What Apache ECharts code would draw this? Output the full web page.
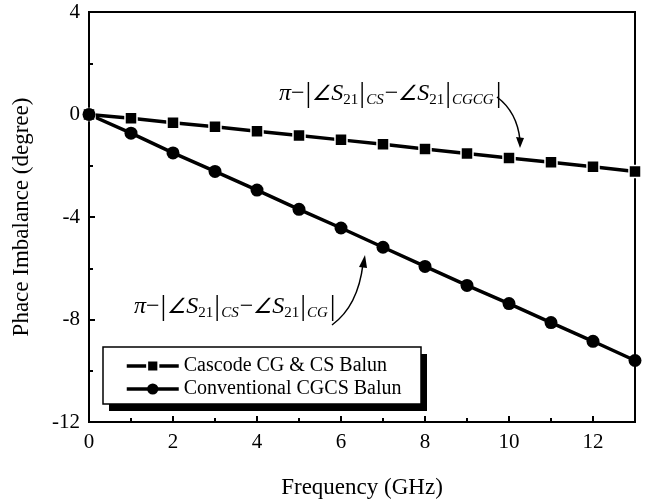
<!DOCTYPE html>
<html>
<head>
<meta charset="utf-8">
<script src="https://cdn.jsdelivr.net/npm/echarts@6/dist/echarts.min.js"></script>
<style>
html,body{margin:0;padding:0;background:#fff;}
#chart{width:654px;height:504px;}
</style>
</head>
<body>
<div id="chart"></div>
<script>
var freq = [0,1,2,3,4,5,6,7,8,9,10,11,12,13];
var cascodeVals = [0,-0.15,-0.32,-0.48,-0.65,-0.82,-0.99,-1.16,-1.35,-1.52,-1.70,-1.86,-2.04,-2.22];
var convVals = [0,-0.73,-1.50,-2.22,-2.95,-3.70,-4.43,-5.18,-5.93,-6.67,-7.38,-8.12,-8.85,-9.60];
var seriesNames = ['Cascode CG & CS Balun','Conventional CGCS Balun'];
var xTicks = [0,2,4,6,8,10,12];
var yTicks = [-12,-8,-4,0,4];

function pairs(xs, ys){ return xs.map(function(x,i){ return [x, ys[i]]; }); }

var serif = '"Liberation Serif", "Times New Roman", serif';
var chart = echarts.init(document.getElementById('chart'));

var rich = {
  m: {fontFamily: serif, fontSize: 24, fontStyle: 'italic', color: '#000'},
  n: {fontFamily: serif, fontSize: 24, color: '#000'},
  ang: {fontFamily: serif, fontSize: 21, fontStyle: 'italic', color: '#000'},
  bar: {fontFamily: serif, fontSize: 29, color: '#000', padding: [0,1,0,1]},
  sub: {fontFamily: serif, fontSize: 15, color: '#000', padding: [12,0,0,0]},
  subi: {fontFamily: serif, fontSize: 15, fontStyle: 'italic', color: '#000', padding: [12,1,0,0]}
};
function formula(tag){
  return '{m|π}{n|−}{bar||}{ang|∠}{m|S}{sub|21}{bar||}{subi|CS}{n|−}{ang|∠}{m|S}{sub|21}{bar||}{subi|' + tag + '}{bar||}';
}

chart.setOption({
  animation: false,
  backgroundColor: '#fff',
  grid: {left: 89, top: 12, right: 19, bottom: 79, show: true, borderColor: '#000', borderWidth: 2, backgroundColor: 'transparent'},
  legend: {
    orient: 'vertical', left: 103, top: 349, z: 20,
    padding: [7, 24, 7, 22], itemGap: 3,
    itemWidth: 52, itemHeight: 14,
    lineStyle: {width: 3.5},
    textStyle: {fontFamily: serif, fontSize: 20, color: '#000'},
    data: seriesNames
  },
  xAxis: {
    type: 'value', min: 0, max: 13, interval: 2,
    name: 'Frequency (GHz)', nameLocation: 'middle', nameGap: 54,
    nameTextStyle: {fontFamily: serif, fontSize: 23, color: '#000'},
    axisLine: {onZero: false, lineStyle: {color: '#000', width: 2}},
    axisTick: {inside: true, length: 6, lineStyle: {color: '#000', width: 2}},
    minorTick: {show: true, splitNumber: 2, length: 4, lineStyle: {color: '#000', width: 2}},
    axisLabel: {fontFamily: serif, fontSize: 21, color: '#000', margin: 10,
      formatter: function(v){ return xTicks.indexOf(v) >= 0 ? String(v) : ''; }},
    splitLine: {show: false}
  },
  yAxis: {
    type: 'value', min: -12, max: 4, interval: 4,
    name: 'Phace Imbalance (degree)', nameLocation: 'middle', nameGap: 56, nameRotate: 90,
    nameTextStyle: {fontFamily: serif, fontSize: 23, color: '#000'},
    axisLine: {onZero: false, lineStyle: {color: '#000', width: 2}},
    axisTick: {inside: true, length: 6, lineStyle: {color: '#000', width: 2}},
    minorTick: {show: true, splitNumber: 2, length: 4, lineStyle: {color: '#000', width: 2}},
    axisLabel: {fontFamily: serif, fontSize: 21, color: '#000', margin: 9,
      formatter: function(v){ return yTicks.indexOf(v) >= 0 ? String(v) : ''; }},
    splitLine: {show: false}
  },
  series: [
    {
      name: seriesNames[0], type: 'line', data: pairs(freq, cascodeVals),
      symbol: 'rect', symbolSize: 12, showAllSymbol: true,
      lineStyle: {color: '#000', width: 3.5},
      itemStyle: {color: '#000', borderColor: '#fff', borderWidth: 1.5}
    },
    {
      name: seriesNames[1], type: 'line', data: pairs(freq, convVals),
      symbol: 'circle', symbolSize: 13, showAllSymbol: true,
      lineStyle: {color: '#000', width: 3.5},
      itemStyle: {color: '#000'}
    }
  ],
  graphic: [
    {type: 'rect', z: 5, shape: {x: 109, y: 354, width: 318, height: 57}, style: {fill: '#000'}},
    {type: 'rect', z: 6, shape: {x: 103, y: 347, width: 318, height: 57}, style: {fill: '#fff', stroke: '#000', lineWidth: 1.5}},
    {type: 'text', x: 279, y: 94, style: {text: formula('CGCG'), rich: rich, verticalAlign: 'middle', align: 'left'}},
    {type: 'text', x: 134, y: 307, style: {text: formula('CG'), rich: rich, verticalAlign: 'middle', align: 'left'}},
    {type: 'bezierCurve', shape: {x1: 497, y1: 97, x2: 520, y2: 140, cpx1: 517, cpy1: 112}, style: {stroke: '#000', lineWidth: 1.5, fill: null}},
    {type: 'polygon', shape: {points: [[516,137],[524,138],[520,148]]}, style: {fill: '#000'}},
    {type: 'bezierCurve', shape: {x1: 332, y1: 325, x2: 363, y2: 264, cpx1: 358, cpy1: 306}, style: {stroke: '#000', lineWidth: 1.5, fill: null}},
    {type: 'polygon', shape: {points: [[359,267],[367,268],[365,255]]}, style: {fill: '#000'}}
  ]
});
</script>
</body>
</html>
